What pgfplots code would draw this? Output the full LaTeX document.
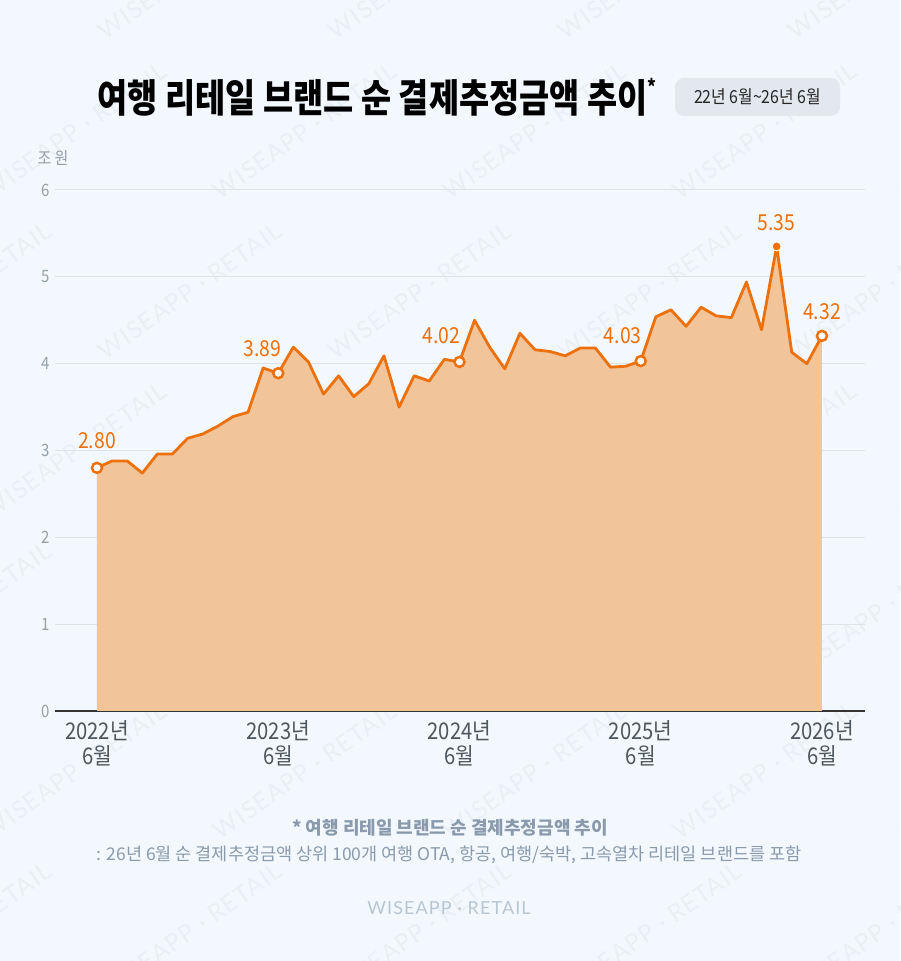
\documentclass[border=0pt]{standalone}
\usepackage{fontspec}
\usepackage{pgfplots}
\pgfplotsset{compat=1.18}
\setmainfont{Noto Sans CJK KR}[FakeStretch=0.88]
\newfontfamily\titlefont{Noto Sans CJK KR}[FakeStretch=0.84]
\newfontfamily\notefont{Noto Sans CJK KR}
\newfontfamily\wmfont{Lato}[LetterSpace=6]

\definecolor{bg}{RGB}{242,248,253}
\definecolor{lineor}{RGB}{236,112,12}
\definecolor{area}{RGB}{242,196,154}
\definecolor{gridc}{RGB}{220,226,232}
\definecolor{tickc}{RGB}{150,160,170}
\definecolor{labc}{RGB}{78,86,96}
\definecolor{notec}{RGB}{138,154,172}
\definecolor{badge}{RGB}{226,232,238}
\definecolor{wmc}{RGB}{184,198,212}

% monthly net estimated payment amount, trillion KRW (0 = 2022-06)
\pgfplotstableread{
m v
0 2.80
1 2.88
2 2.88
3 2.74
4 2.96
5 2.96
6 3.14
7 3.19
8 3.28
9 3.39
10 3.44
11 3.95
12 3.89
13 4.19
14 4.02
15 3.65
16 3.86
17 3.62
18 3.77
19 4.09
20 3.50
21 3.86
22 3.80
23 4.05
24 4.02
25 4.50
26 4.19
27 3.94
28 4.35
29 4.16
30 4.14
31 4.09
32 4.18
33 4.18
34 3.96
35 3.97
36 4.03
37 4.54
38 4.62
39 4.43
40 4.65
41 4.55
42 4.53
43 4.94
44 4.39
45 5.35
46 4.13
47 4.00
48 4.32
}\paytable

\begin{document}
\begin{tikzpicture}[x=1pt,y=1pt]
\useasboundingbox (0,0) rectangle (900,961);
\fill[bg] (0,0) rectangle (900,961);

% faint diagonal watermark
\begin{scope}
\clip (0,0) rectangle (900,961);
\foreach \j in {0,...,6}{
  \foreach \i in {0,...,4}{
    \node[rotate=35, text=wmc, opacity=0.16, font=\wmfont\fontsize{24}{24}\selectfont]
      at ({\i*230 - 40 + mod(\j,2)*115}, {\j*160 + 30}) {WISEAPP · RETAIL};
  }
}
\end{scope}

% title and period badge
\node[font=\titlefont\bfseries\fontsize{39}{39}\selectfont, text=black] at (377,864)
  {여행 리테일 브랜드 순 결제추정금액 추이\raisebox{0.45em}{\fontsize{20}{20}\selectfont *}};
\fill[badge, rounded corners=9pt] (675,845) rectangle (840,883);
\node[font=\fontsize{18}{18}\selectfont, text=black!85] at (757.5,864) {22년 6월\textasciitilde 26년 6월};

% unit label
\node[anchor=west, font=\fontsize{17}{17}\selectfont, text=tickc] at (34,803) {조 원};

\begin{axis}[
  at={(55pt,250pt)}, anchor=south west,
  scale only axis, width=810pt, height=521pt,
  xmin=-2.78, xmax=50.85, ymin=0, ymax=6,
  axis line style={draw=none},
  tick style={draw=none},
  ytick={0,1,2,3,4,5,6},
  ymajorgrids, grid style={gridc, line width=1pt},
  xtick={0,12,24,36,48},
  xticklabels={{2022년\\6월},{2023년\\6월},{2024년\\6월},{2025년\\6월},{2026년\\6월}},
  xticklabel style={align=center, font=\fontsize{23}{25}\selectfont, text=labc, yshift=-6pt},
  yticklabel style={font=\fontsize{17}{17}\selectfont, text=tickc, xshift=-2pt},
  /pgf/number format/assume math mode=true,
  clip=false,
]
\draw[black!80, line width=1.3pt] (axis cs:-2.78,0) -- (axis cs:50.85,0);
\addplot[draw=none, fill=area] table[x=m, y=v] {\paytable} \closedcycle;
\addplot[lineor, line width=2.8pt, line join=round, mark=none] table[x=m, y=v] {\paytable};
\addplot[only marks, mark=*, mark size=5pt, mark options={fill=white, draw=lineor, line width=2.5pt}]
  coordinates {(0,2.80) (12,3.89) (24,4.02) (36,4.03) (48,4.32)};
\addplot[only marks, mark=*, mark size=4.5pt, mark options={fill=lineor, draw=bg, line width=1pt}]
  coordinates {(45,5.35)};

\tikzset{vl/.style={text=lineor, font=\fontsize{22}{22}\selectfont}}
\node[vl] at ([shift={(0pt,27pt)}]axis cs:0,2.80) {2.80};
\node[vl] at ([shift={(-16pt,25pt)}]axis cs:12,3.89) {3.89};
\node[vl] at ([shift={(-18pt,26pt)}]axis cs:24,4.02) {4.02};
\node[vl] at ([shift={(-18pt,25pt)}]axis cs:36,4.03) {4.03};
\node[vl] at ([shift={(0pt,24pt)}]axis cs:45,5.35) {5.35};
\node[vl] at ([shift={(0pt,24pt)}]axis cs:48,4.32) {4.32};
\end{axis}

% notes and brand line
\node[font=\notefont\bfseries\fontsize{18}{18}\selectfont, text=notec] at (450,133) {* 여행 리테일 브랜드 순 결제추정금액 추이};
\node[font=\notefont\fontsize{17.5}{17.5}\selectfont, text=notec] at (449,106) {: 26년 6월 순 결제추정금액 상위 100개 여행 OTA, 항공, 여행/숙박, 고속열차 리테일 브랜드를 포함};
\node[font=\wmfont\fontsize{18}{18}\selectfont, text=wmc] at (449,53) {WISEAPP · RETAIL};
\end{tikzpicture}
\end{document}
